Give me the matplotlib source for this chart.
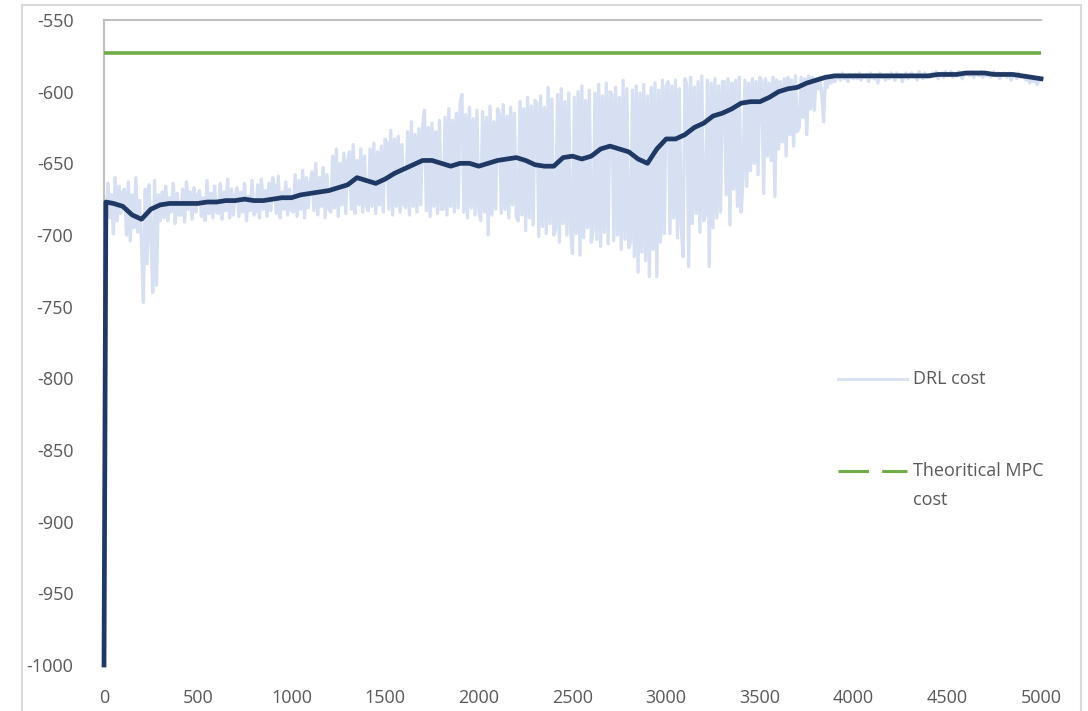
import matplotlib.pyplot as plt
from matplotlib.lines import Line2D
from matplotlib.patches import Rectangle
import numpy as np

plt.rcParams['font.family'] = ['Open Sans', 'DejaVu Sans']
plt.rcParams['axes.unicode_minus'] = False

# DRL cost, read every 10 episodes (x = 10 .. 5000)
drl_cost = [
    -695, -664, -688, -672, -699, -660, -690, -666, -685, -670,
    -668, -700, -663, -704, -672, -695, -660, -698, -676, -705,
    -747, -668, -720, -665, -698, -740, -662, -735, -672, -690,
    -670, -688, -666, -690, -674, -684, -664, -692, -671, -686,
    -686, -668, -691, -663, -682, -670, -689, -667, -684, -672,
    -669, -687, -674, -690, -662, -685, -671, -688, -666, -684,
    -685, -664, -689, -670, -683, -661, -688, -668, -686, -672,
    -667, -687, -670, -684, -664, -690, -673, -683, -662, -686,
    -684, -665, -688, -661, -682, -669, -687, -664, -683, -660,
    -666, -685, -659, -688, -670, -682, -663, -686, -668, -683,
    -684, -658, -687, -662, -682, -655, -688, -660, -681, -663,
    -656, -683, -650, -686, -660, -680, -653, -688, -658, -682,
    -684, -645, -681, -640, -687, -650, -679, -643, -685, -648,
    -642, -682, -637, -685, -648, -679, -640, -684, -645, -680,
    -683, -640, -680, -636, -685, -642, -679, -638, -684, -633,
    -636, -682, -627, -686, -633, -680, -631, -684, -637, -679,
    -681, -628, -686, -621, -680, -630, -684, -626, -679, -624,
    -613, -683, -625, -687, -622, -680, -628, -685, -620, -682,
    -682, -618, -686, -612, -680, -620, -684, -615, -681, -608,
    -602, -684, -616, -688, -611, -681, -619, -686, -613, -683,
    -690, -614, -684, -618, -700, -610, -686, -621, -682, -612,
    -616, -685, -609, -682, -617, -688, -611, -679, -615, -687,
    -690, -607, -686, -612, -697, -604, -688, -610, -693, -606,
    -608, -701, -603, -694, -611, -699, -597, -692, -605, -700,
    -696, -602, -705, -598, -692, -607, -700, -601, -697, -713,
    -604, -699, -600, -714, -596, -702, -606, -695, -599, -705,
    -696, -601, -703, -595, -708, -603, -698, -594, -706, -600,
    -602, -704, -597, -700, -604, -710, -592, -703, -598, -709,
    -705, -599, -715, -596, -726, -601, -712, -595, -718, -603,
    -729, -597, -710, -594, -729, -599, -705, -592, -699, -596,
    -593, -699, -596, -688, -592, -702, -598, -694, -715, -591,
    -595, -722, -590, -692, -597, -685, -593, -698, -589, -690,
    -686, -592, -722, -594, -695, -591, -688, -596, -684, -593,
    -593, -672, -591, -693, -594, -668, -592, -680, -590, -684,
    -660, -592, -666, -594, -655, -591, -650, -593, -658, -590,
    -593, -671, -591, -645, -594, -648, -590, -673, -592, -640,
    -593, -635, -591, -645, -590, -630, -592, -638, -589, -628,
    -625, -590, -618, -591, -630, -589, -612, -590, -613, -591,
    -598, -590, -602, -621, -589, -597, -590, -594, -588, -593,
    -590, -588, -592, -587, -591, -589, -593, -588, -590, -591,
    -588, -591, -587, -592, -589, -590, -588, -593, -587, -590,
    -591, -588, -594, -587, -590, -589, -592, -588, -591, -587,
    -589, -592, -587, -590, -588, -593, -589, -587, -591, -588,
    -587, -590, -588, -592, -586, -589, -591, -587, -590, -588,
    -590, -587, -589, -586, -591, -588, -587, -590, -586, -589,
    -588, -586, -590, -587, -589, -586, -588, -591, -587, -588,
    -587, -589, -586, -590, -588, -587, -589, -586, -590, -588,
    -589, -587, -590, -588, -586, -589, -587, -591, -588, -587,
    -588, -590, -587, -592, -589, -588, -591, -587, -590, -589,
    -590, -592, -589, -594, -591, -593, -590, -595, -592, -591,
]
drl_episodes = np.arange(10, 5001, 10)

# moving average (dark line)
ma_episodes = [0, 10] + list(range(50, 5001, 50))
ma_cost = [
    -1000, -677,
    -678, -680, -686, -689, -682, -679, -678, -678, -678, -678,
    -677, -677, -676, -676, -675, -676, -676, -675, -674, -674,
    -672, -671, -670, -669, -667, -665, -660, -662, -664, -661,
    -657, -654, -651, -648, -648, -650, -652, -650, -650, -652,
    -650, -648, -647, -646, -648, -651, -652, -652, -646, -645,
    -647, -645, -640, -638, -640, -642, -647, -650, -640, -633,
    -633, -630, -625, -622, -617, -615, -612, -608, -607, -607,
    -604, -600, -598, -597, -594, -592, -590, -589, -589, -589,
    -589, -589, -589, -589, -589, -589, -589, -589, -588, -588,
    -588, -587, -587, -587, -588, -588, -588, -589, -590, -591,
]

mpc_cost = -573

fig = plt.figure(figsize=(10.88, 7.11), dpi=100)
ax = fig.add_axes([0.0956, 0.0647, 0.8612, 0.9072])

ax.plot(drl_episodes, drl_cost, color="#d6e0f2", lw=2.4, zorder=2)
ax.axhline(mpc_cost, color="#70ad47", lw=2.6, zorder=3)
ax.plot(ma_episodes, ma_cost, color="#1f3864", lw=3.4, zorder=4,
        solid_joinstyle='round', clip_on=False)

ax.set_xlim(0, 5000)
ax.set_ylim(-1000, -550)
ax.set_xticks(np.arange(0, 5001, 500))
ax.set_yticks(np.arange(-1000, -549, 50))
ax.tick_params(length=0, labelsize=13, labelcolor="#595959")
ax.tick_params(axis='x', pad=17)
ax.tick_params(axis='y', pad=22)

for s in ['right', 'bottom']:
    ax.spines[s].set_visible(False)
ax.spines['top'].set_color("#bfbfbf")
ax.spines['top'].set_linewidth(1.5)
ax.spines['left'].set_color("#bfbfbf")
ax.spines['left'].set_linewidth(1.5)

# legend drawn by hand, Excel style
ax.add_line(Line2D([0.7834, 0.857], [0.4434, 0.4434], transform=ax.transAxes,
                   color="#dae3f3", lw=2.2))
ax.text(0.8634, 0.4434, "DRL cost", transform=ax.transAxes, fontsize=13,
        color="#595959", va='center')
ax.add_line(Line2D([0.7834, 0.857], [0.3008, 0.3008], transform=ax.transAxes,
                   color="#70ad47", lw=2.2, dashes=(10, 4.3)))
ax.text(0.8634, 0.3008, "Theoritical MPC", transform=ax.transAxes, fontsize=13,
        color="#595959", va='center')
ax.text(0.8634, 0.2558, "cost", transform=ax.transAxes, fontsize=13,
        color="#595959", va='center')

# outer chart border
fig.patches.append(Rectangle((0.0202, -0.05), 0.9734, 1.043, transform=fig.transFigure,
                             fill=False, edgecolor="#d9d9d9", lw=1.5))

plt.savefig("out.png", dpi=100)
plt.close()
